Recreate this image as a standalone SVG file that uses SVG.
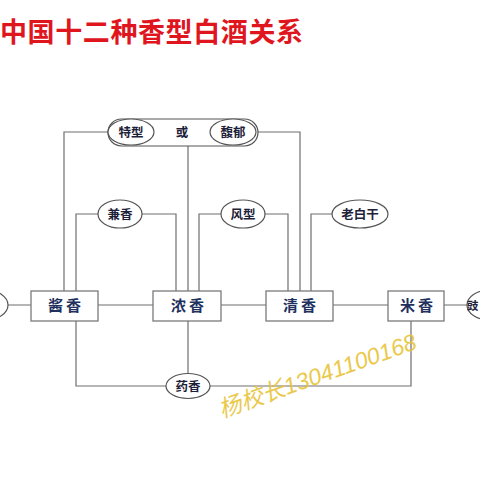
<svg xmlns="http://www.w3.org/2000/svg" width="480" height="480" viewBox="0 0 480 480">
<style>
.box{fill:#fff;stroke:#7a7a7a;stroke-width:1.3}
.ell{fill:#fff;stroke:#555;stroke-width:1.2}
.ln{fill:none;stroke:#6e6e6e;stroke-width:1.2}
.bt{font-family:"Noto Sans CJK SC","Noto Sans",sans-serif;font-size:15px;font-weight:bold;fill:#22305e;text-anchor:middle;letter-spacing:3px}
.et{font-family:"Noto Sans CJK SC","Noto Sans",sans-serif;font-size:12.5px;font-weight:bold;fill:#1c2138;text-anchor:middle}
</style>
<rect width="480" height="480" fill="#fff"/>
<text x="0" y="42" font-family="Noto Sans CJK SC, sans-serif" font-size="27" font-weight="bold" fill="#e0161e" textLength="303">中国十二种香型白酒关系</text>
<g id="connectors">
<path class="ln" d="M8 305H31M98 305H153M221 305H266M333 305H388M444 305H467"/>
<path class="ln" d="M108 132H64V291M256 132H300V291M188 146V291"/>
<path class="ln" d="M98 214H76V291M142 214H176V291"/>
<path class="ln" d="M221 214H199V291M265 214H288V291"/>
<path class="ln" d="M332 214H311V291"/>
<path class="ln" d="M76 321V386H166M210 386H411V321M188 321V374"/>
</g>
<g id="n-left"><ellipse class="ell" cx="-14" cy="305" rx="22" ry="15"/></g>
<g id="n-right"><ellipse class="ell" cx="489" cy="305" rx="22" ry="15"/><text class="et" x="467" y="310" style="text-anchor:start;font-size:11.5px">豉</text></g>
<g id="n-jiang"><rect class="box" x="31" y="291" width="67" height="30"/><text class="bt" x="66" y="311">酱香</text></g>
<g id="n-nong"><rect class="box" x="153" y="291" width="68" height="30"/><text class="bt" x="189" y="311">浓香</text></g>
<g id="n-qing"><rect class="box" x="266" y="291" width="67" height="30"/><text class="bt" x="301" y="311">清香</text></g>
<g id="n-mi"><rect class="box" x="388" y="291" width="56" height="30"/><text class="bt" x="418" y="311">米香</text></g>
<g id="n-or">
<rect class="ell" x="108" y="119" width="150" height="27" rx="13.5"/>
<ellipse class="ell" cx="131" cy="132" rx="23" ry="13"/>
<text class="et" x="131" y="137">特型</text>
<text class="et" x="182" y="137">或</text>
<ellipse class="ell" cx="233" cy="132" rx="23" ry="13"/>
<text class="et" x="233" y="137">馥郁</text>
</g>
<g id="n-jian"><ellipse class="ell" cx="120" cy="214" rx="22" ry="14"/><text class="et" x="120" y="219">兼香</text></g>
<g id="n-feng"><ellipse class="ell" cx="243" cy="214" rx="22" ry="14"/><text class="et" x="243" y="219">风型</text></g>
<g id="n-lao"><ellipse class="ell" cx="360" cy="214" rx="28" ry="14"/><text class="et" x="360" y="219">老白干</text></g>
<g id="n-yao"><ellipse class="ell" cx="188" cy="386" rx="22" ry="12.5"/><text class="et" x="188" y="391">药香</text></g>
<text x="222" y="418" transform="rotate(-19.5 222 418)" font-family="Liberation Sans, Noto Sans CJK SC, sans-serif" font-size="23" font-style="italic" fill="#e8c437" opacity="0.9">杨校长13041100168</text>
</svg>
